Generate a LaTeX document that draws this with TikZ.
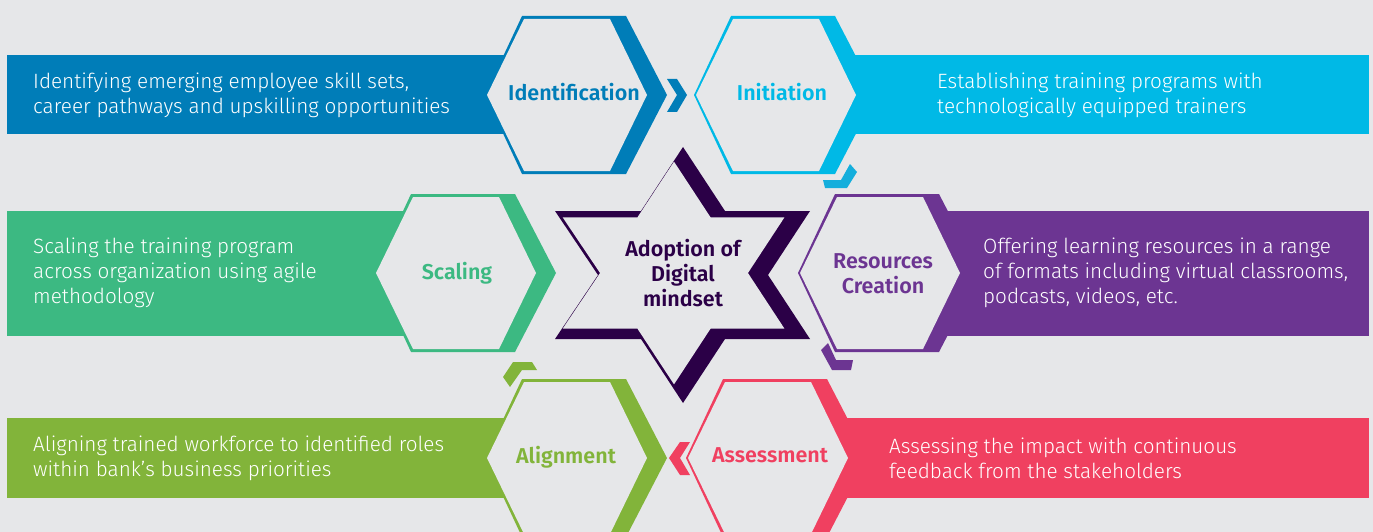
\documentclass[tikz,border=0pt]{standalone}
\usepackage{fontspec}
\setmainfont{Fira Sans Light}[BoldFont={Fira Sans SemiBold}]
\usetikzlibrary{positioning}

\definecolor{bgcol}{HTML}{E6E7E9}
\definecolor{identblue}{HTML}{007DB8}
\definecolor{initcyan}{HTML}{00B9E6}
\definecolor{arrowcyan}{HTML}{14AEDC}
\definecolor{scalegreen}{HTML}{3CB982}
\definecolor{respurple}{HTML}{6C3592}
\definecolor{assesspink}{HTML}{F04060}
\definecolor{aligngreen}{HTML}{82B43A}
\definecolor{stardark}{HTML}{2B0047}

\begin{document}
\begin{tikzpicture}[
        x=1pt, y=-1pt,
        bandtext/.style={anchor=west, align=left, text=white, inner sep=0pt,
            font=\fontsize{20.7}{25}\selectfont},
        hextitle/.style={text=#1, align=center, inner sep=0pt,
            font=\fontsize{21.5}{25}\selectfont\bfseries}
        ]
    \fill[bgcol] (0,0) rectangle (1373,532);
    \useasboundingbox (0,0) rectangle (1373,532);

    % bands
    \fill[identblue] (7,55) rectangle (576,134);
    \fill[initcyan] (785,55) rectangle (1369,134);
    \fill[scalegreen] (7,211) rectangle (465,336);
    \fill[respurple] (889,211) rectangle (1369,336);
    \fill[aligngreen] (7,418) rectangle (576,498);
    \fill[assesspink] (777,418) rectangle (1369,498);

    % hexagons
    \foreach \hx/\hy/\col in {576/95/identblue, 785/95/initcyan, 465/273/scalegreen,
            889/273/respurple, 576/458/aligngreen, 777/458/assesspink}{
        \begin{scope}[shift={(\hx,\hy)}]
            \fill[\col] (-91,0) -- (-54,-79) -- (50,-79) -- (91,0) -- (50,79) -- (-54,79) -- cycle;
            \fill[bgcol] (-89,0) -- (-52,-76) -- (34,-76) -- (71,0) -- (34,76) -- (-52,76) -- cycle;
        \end{scope}
    }

    % star
    \fill[stardark] (683,147) -- (725,211) -- (810,211) -- (768,275) -- (810,339) -- (725,339)
        -- (683,403) -- (641,339) -- (555,339) -- (598,275) -- (555,211) -- (641,211) -- cycle;
    \begin{scope}[shift={(674,273)}, scale=0.87]
        \fill[bgcol] (0,-128) -- (42,-64) -- (127,-64) -- (85,0) -- (127,64) -- (42,64)
            -- (0,128) -- (-42,64) -- (-128,64) -- (-85,0) -- (-128,-64) -- (-42,-64) -- cycle;
    \end{scope}

    % small chevrons
    \fill[identblue] (667,79) -- (677,79) -- (687,95) -- (677,112) -- (667,112) -- (677,95) -- cycle;
    \fill[arrowcyan] (823,180) -- (841,180) -- (850,164) -- (857,172) -- (847,188) -- (825,188) -- cycle;
    \fill[respurple] (821,350) -- (828,343) -- (836,360) -- (853,360) -- (851,370) -- (832,370) -- cycle;
    \fill[assesspink] (669,458) -- (680,442) -- (690,442) -- (680,458) -- (690,475) -- (680,475) -- cycle;
    \fill[aligngreen] (503,377) -- (513,362) -- (532,362) -- (537,370) -- (522,370) -- (510,387) -- cycle;

    % titles
    \node[hextitle=identblue] (ident) at (574,92) {Identification};
    \node[hextitle=initcyan] (init) at (782,92) {Initiation};
    \node[hextitle=scalegreen] (scale) at (457,273) {Scaling};
    \node[hextitle=respurple] (res) at (883,274) {Resources\\Creation};
    \node[hextitle=aligngreen] (align) at (566,457) {Alignment};
    \node[hextitle=assesspink] (assess) at (770,455) {Assessment};
    \node[hextitle=stardark] (adopt) at (683,273) {Adoption of\\Digital\\mindset};

    % band texts
    \node[bandtext] (identtxt) at (33,95) {Identifying emerging employee skill sets,\\career pathways and upskilling opportunities};
    \node[bandtext] (inittxt) at (937,95) {Establishing training programs with\\technologically equipped trainers};
    \node[bandtext] (scaletxt) at (33,273) {Scaling the training program\\across organization using agile\\methodology};
    \node[bandtext] (restxt) at (983,273) {Offering learning resources in a range\\of formats including virtual classrooms,\\podcasts, videos, etc.};
    \node[bandtext] (aligntxt) at (33,458) {Aligning trained workforce to identified roles\\within bank’s business priorities};
    \node[bandtext] (assesstxt) at (889,458) {Assessing the impact with continuous\\feedback from the stakeholders};
\end{tikzpicture}
\end{document}
